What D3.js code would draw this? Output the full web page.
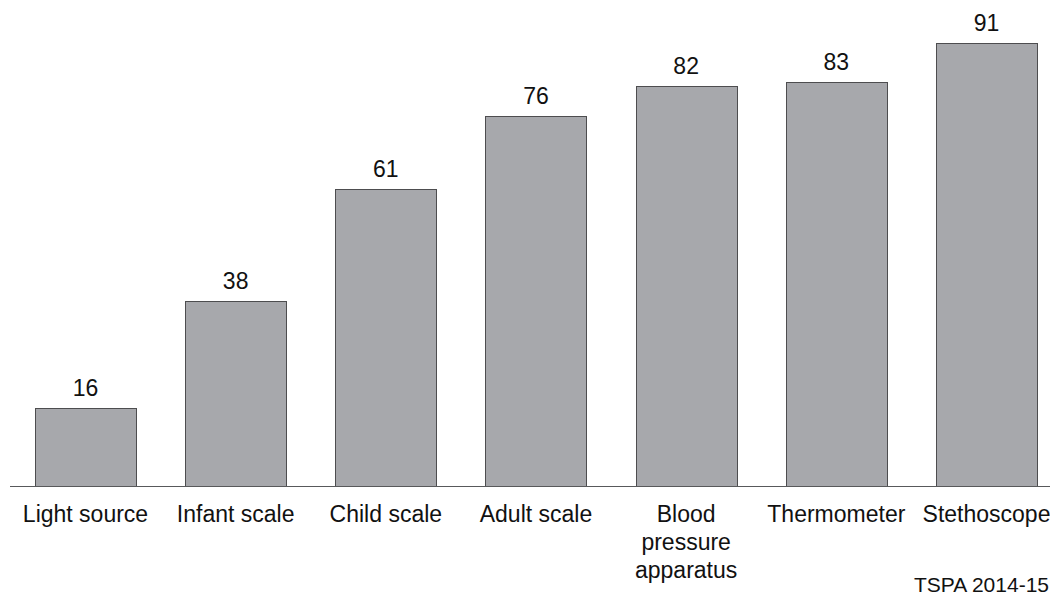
<!DOCTYPE html>
<html><head><meta charset="utf-8">
<script src="https://cdn.jsdelivr.net/npm/d3@7"></script>
<style>body{margin:0;background:#fff}svg{display:block}</style>
</head><body>
<svg id="c" width="1050" height="597"></svg>
<script>
const categories = ["Light source","Infant scale","Child scale","Adult scale","Blood pressure apparatus","Thermometer","Stethoscope"];
const labelLines = [["Light source"],["Infant scale"],["Child scale"],["Adult scale"],["Blood","pressure","apparatus"],["Thermometer"],["Stethoscope"]];
const values = [16,38,61,76,82,83,91];
const sourceNote = "TSPA 2014-15";

const svg = d3.select("#c");
const font = "Arial, 'Liberation Sans', sans-serif";
const baseY = 486.5;
const x = d3.scaleBand().domain(categories).range([10.5, 1061.5]).paddingInner(0.327).paddingOuter(0.163);
const y = d3.scaleLinear().domain([0, 91]).range([baseY, 42.5]);

svg.selectAll("rect.bar").data(values).join("rect")
  .attr("class","bar")
  .attr("x",(d,i)=>Math.round(x(categories[i]))+0.5)
  .attr("width",Math.round(x.bandwidth()))
  .attr("y",d=>Math.round(y(d))+0.5)
  .attr("height",d=>baseY-(Math.round(y(d))+0.5))
  .attr("fill","#a7a8ac").attr("stroke","#4d4d4f").attr("stroke-width",1);

svg.append("line").attr("x1",10).attr("x2",1050).attr("y1",baseY).attr("y2",baseY)
  .attr("stroke","#58595b").attr("stroke-width",1.2);

svg.selectAll("text.val").data(values).join("text")
  .attr("class","val")
  .attr("x",(d,i)=>x(categories[i])+x.bandwidth()/2)
  .attr("y",d=>y(d)-12)
  .attr("text-anchor","middle").attr("font-family",font).attr("font-size",23).attr("fill","#111")
  .text(d=>d);

const g = svg.selectAll("text.cat").data(labelLines).join("text")
  .attr("class","cat")
  .attr("text-anchor","middle").attr("font-family",font).attr("font-size",23).attr("fill","#111");
g.each(function(lines,i){
  const t = d3.select(this);
  lines.forEach((l,j)=>{
    t.append("tspan").attr("x",x(categories[i])+x.bandwidth()/2)
      .attr("y",522+j*28).text(l);
  });
});

svg.append("text").attr("x",1049).attr("y",592).attr("text-anchor","end").attr("font-family",font).attr("font-size",21).attr("fill","#111").text(sourceNote);
</script>
</body></html>
